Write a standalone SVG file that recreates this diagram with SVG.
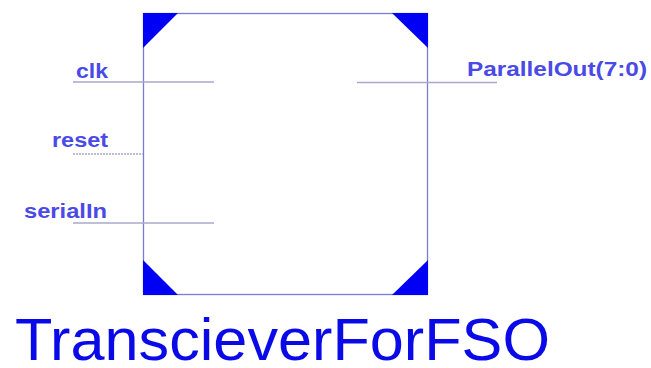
<svg xmlns="http://www.w3.org/2000/svg" width="651" height="368" viewBox="0 0 651 368">
<style>
.port{font-family:"Liberation Sans",Arial,sans-serif;font-weight:bold;font-size:20px;fill:#4a4ae6}
.title{font-family:"Liberation Sans",Arial,sans-serif;font-size:60px;fill:#0a0ae8}
.wire{stroke:#a9a9c9;stroke-width:1.5;fill:none}
.corner{fill:#0000f5}
.body{fill:#ffffff;stroke:#7b7bd6;stroke-width:1.3}
</style>
<rect width="651" height="368" fill="#ffffff"/>
<g id="block">
<rect class="body" x="143.5" y="13.5" width="284" height="281"/>
<polygon class="corner" points="143,13 178,13 143,48"/>
<polygon class="corner" points="392,13 428,13 428,48"/>
<polygon class="corner" points="143,260 143,295 178,295"/>
<polygon class="corner" points="428,260 428,295 392,295"/>
</g>
<g id="connectors">
<line class="wire" x1="73" y1="82" x2="214" y2="82"/>
<line class="wire" x1="73" y1="154" x2="143" y2="154" stroke-dasharray="2 1"/>
<line class="wire" x1="73" y1="223" x2="214" y2="223"/>
<line class="wire" x1="357" y1="82.5" x2="497" y2="82.5"/>
</g>
<g id="port-clk"><text class="port" x="76" y="78" textLength="32" lengthAdjust="spacingAndGlyphs">clk</text></g>
<g id="port-reset"><text class="port" x="52" y="147" textLength="56" lengthAdjust="spacingAndGlyphs">reset</text></g>
<g id="port-serialIn"><text class="port" x="24" y="218" textLength="83" lengthAdjust="spacingAndGlyphs">serialIn</text></g>
<g id="port-ParallelOut"><text class="port" x="467" y="76" textLength="180" lengthAdjust="spacingAndGlyphs">ParallelOut(7:0)</text></g>
<g id="title"><text class="title" x="15" y="360" textLength="535" lengthAdjust="spacingAndGlyphs">TranscieverForFSO</text></g>
</svg>
